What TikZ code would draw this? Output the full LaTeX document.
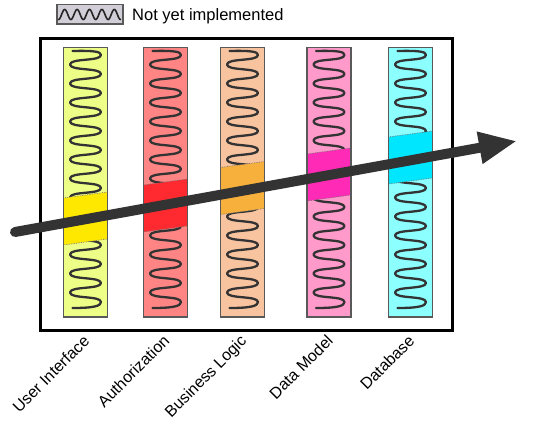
\documentclass[tikz,border=0pt]{standalone}
\usepackage{fontspec}
\setmainfont{Liberation Sans}
\usetikzlibrary{arrows.meta}
\definecolor{c1}{HTML}{EEFF88}
\definecolor{b1}{HTML}{FFE800}
\definecolor{c2}{HTML}{FF8585}
\definecolor{b2}{HTML}{FF2A30}
\definecolor{c3}{HTML}{F8C4A0}
\definecolor{b3}{HTML}{F8B03C}
\definecolor{c4}{HTML}{FF9ACB}
\definecolor{b4}{HTML}{FF2AB5}
\definecolor{c5}{HTML}{8CFFFF}
\definecolor{b5}{HTML}{00E6FF}
\definecolor{arrowgray}{HTML}{333333}
\definecolor{legendgray}{HTML}{D2CED8}
\begin{document}
\begin{tikzpicture}[x=1pt,y=-1pt,
  colbox/.style={draw=black!65, line width=1.5pt},
  wave/.style={draw=black!80, line width=2.3pt, line cap=round, line join=round},
  legwave/.style={draw=black!85, line width=1.6pt, line cap=round},
  band/.style={draw=black!55, densely dotted, line width=0.7pt},
  lbl/.style={font=\fontsize{16}{19}\selectfont, rotate=45, anchor=base east, inner sep=0pt},
  legtext/.style={font=\fontsize{16.5}{19}\selectfont, anchor=base west, inner sep=0pt}]
\useasboundingbox (0,0) rectangle (540,426);
% columns
\foreach \cx/\cc/\bc/\bt/\nm/\tx in {85.5/c1/b1/198/ui/User Interface, 165.5/c2/b2/185/auth/Authorization, 242.5/c3/b3/167.5/bl/Business Logic, 329/c4/b4/154/dm/Data Model, 410.5/c5/b5/137/db/Database} {
  \fill[\cc] (\cx-22,47.5) rectangle (\cx+22,317);
  \pgfmathsetmacro{\xr}{\cx+15.5}
  \pgfmathsetmacro{\xl}{\cx-15.5}
  \draw[wave] (\cx-13,51) .. controls (\cx+8,50.5) and (\xr,51.5) .. (\xr,55)
    \foreach \k in {0,...,12} {
      .. controls (\xr,{55+19*\k+6.5}) and (\xl,{64.5+19*\k-6.5}) .. (\xl,{64.5+19*\k})
      .. controls (\xl,{64.5+19*\k+6.5}) and (\xr,{74+19*\k-6.5}) .. (\xr,{74+19*\k})
    }
    .. controls (\xr,306) and (\cx+8,308) .. (\cx-13,308);
  \filldraw[band, fill=\bc] (\cx-22,\bt) -- (\cx+22,\bt-6) -- (\cx+22,\bt+41) -- (\cx-22,\bt+47) -- cycle;
  \draw[colbox] (\cx-22,47.5) rectangle (\cx+22,317);
  \node[lbl] (\nm) at (\cx+5,342) {\tx};
}
% frame
\draw[line width=3pt] (40,38) rectangle (452,330);
% arrow
\coordinate (astart) at (15,232);
\coordinate (atip) at (517,141);
\draw[line width=10pt, arrowgray, line cap=round, -{Triangle[length=38pt,width=30pt]}] (astart) -- (atip);
% legend
\node[draw=black!65, fill=legendgray, line width=1.2pt, minimum width=66pt, minimum height=19.5pt, inner sep=0pt] (legbox) at (90,14.25) {};
\draw[legwave] plot[domain=58.5:120.5, samples=200, variable=\t] (\t, {14.5+5*cos((\t-58.5)/12.4*360)});
\node[legtext] (legtxt) at (132,20.5) {Not yet implemented};
\end{tikzpicture}
\end{document}
